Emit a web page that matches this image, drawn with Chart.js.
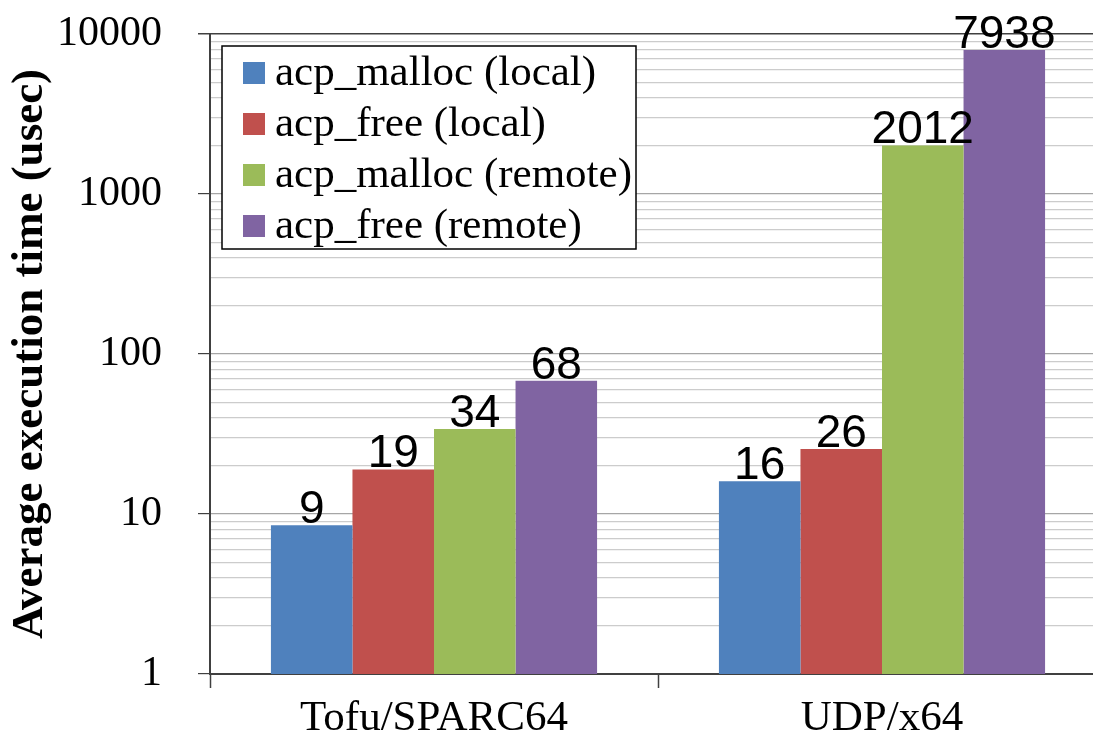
<!DOCTYPE html>
<html>
<head>
<meta charset="utf-8">
<script src="https://cdn.jsdelivr.net/npm/chart.js@4"></script>
<style>
  html, body { margin: 0; padding: 0; background: #fff; overflow: hidden; }
  #wrap { width: 1106px; height: 772px; margin-top: -23px; }
</style>
</head>
<body>
<div id="wrap"><canvas id="execChart"></canvas></div>
<script>
const categories = ['Tofu/SPARC64', 'UDP/x64'];
const seriesNames = ['acp_malloc (local)', 'acp_free (local)', 'acp_malloc (remote)', 'acp_free (remote)'];
const mallocLocal = [8.5, 16];
const freeLocal = [19, 25.5];
const mallocRemote = [34, 2012];
const freeRemote = [68, 7938];
const seriesColors = ['#4F81BD', '#C0504D', '#9BBB59', '#8064A2'];
const yDecades = [1, 10, 100, 1000, 10000];

const serif = "'Liberation Serif', 'Times New Roman', serif";
const sans = "'Liberation Sans', Arial, sans-serif";

// value labels above each bar
const barLabels = {
    id: 'barLabels',
    afterDatasetsDraw(chart) {
        const c = chart.ctx;
        c.save();
        c.font = '46px ' + sans;
        c.fillStyle = '#000';
        c.textAlign = 'center';
        c.textBaseline = 'alphabetic';
        chart.data.datasets.forEach((ds, i) => {
            chart.getDatasetMeta(i).data.forEach((bar, j) => {
                c.fillText(String(Math.round(ds.data[j])), bar.x, bar.y - 2);
            });
        });
        c.restore();
    }
};

// boxed legend inside the plot, top left
const boxLegend = {
    id: 'boxLegend',
    afterDraw(chart) {
        const c = chart.ctx;
        const a = chart.chartArea;
        const x0 = a.left + 12, y0 = a.top + 12;
        c.save();
        c.fillStyle = '#fff';
        c.fillRect(x0, y0, 414, 203);
        c.strokeStyle = '#000';
        c.lineWidth = 1.5;
        c.strokeRect(x0, y0, 414, 203);
        c.font = '43px ' + serif;
        c.textBaseline = 'middle';
        chart.data.datasets.forEach((ds, i) => {
            const cy = y0 + 27 + i * 51;
            c.fillStyle = ds.backgroundColor;
            c.fillRect(x0 + 21, cy - 11, 22, 22);
            c.fillStyle = '#000';
            c.fillText(ds.label, x0 + 53, cy + 1);
        });
        c.restore();
    }
};

const allTicks = [];
yDecades.forEach(d => {
    if (d === 10000) { allTicks.push(d); return; }
    for (let k = 1; k <= 9; k++) allTicks.push(d * k);
});

const isMajor = v => Math.abs(Math.log10(v) - Math.round(Math.log10(v))) < 1e-9;

new Chart(document.getElementById('execChart').getContext('2d'), {
    type: 'bar',
    data: {
        labels: categories,
        datasets: [mallocLocal, freeLocal, mallocRemote, freeRemote].map((d, i) => ({
            label: seriesNames[i],
            data: d,
            backgroundColor: seriesColors[i],
            borderWidth: 0,
            categoryPercentage: 0.728,
            barPercentage: 1.0
        }))
    },
    plugins: [barLabels, boxLegend],
    options: {
        responsive: true,
        maintainAspectRatio: false,
        animation: false,
        layout: { padding: { top: 14, right: 0, bottom: 0, left: 0 } },
        plugins: {
            legend: { display: false },
            tooltip: { enabled: false }
        },
        scales: {
            x: {
                offset: true,
                grid: {
                    offset: true,
                    drawOnChartArea: false,
                    drawTicks: true,
                    tickLength: 14,
                    tickColor: '#404040',
                    tickWidth: 1.5
                },
                border: { color: '#404040', width: 2 },
                ticks: {
                    color: '#000',
                    padding: 9,
                    font: { family: serif, size: 43, lineHeight: 1 }
                }
            },
            y: {
                type: 'logarithmic',
                min: 1,
                max: 10000,
                afterBuildTicks: axis => {
                    axis.ticks = allTicks.map(v => ({ value: v, major: isMajor(v) }));
                },
                grid: {
                    color: ctx => {
                        const v = ctx.tick.value;
                        if (v === 10000 || v === 1) return '#404040';
                        return isMajor(v) ? '#a6a6a6' : '#cccccc';
                    },
                    lineWidth: ctx => (ctx.tick.value === 10000 ? 1.5 : 1.2),
                    tickLength: 12,
                    tickColor: ctx => (isMajor(ctx.tick.value) ? '#404040' : 'rgba(0,0,0,0)')
                },
                border: { color: '#404040', width: 2 },
                ticks: {
                    autoSkip: false,
                    color: '#000',
                    padding: 36,
                    font: { family: serif, size: 42, lineHeight: 1 },
                    callback: v => (isMajor(v) ? String(Math.round(v)) : '')
                },
                title: {
                    display: true,
                    text: 'Average execution time (usec)',
                    color: '#000',
                    font: { family: serif, size: 45, weight: 'bold', lineHeight: 1 },
                    padding: { top: 8, bottom: -32 }
                }
            }
        }
    }
});
</script>
</body>
</html>
